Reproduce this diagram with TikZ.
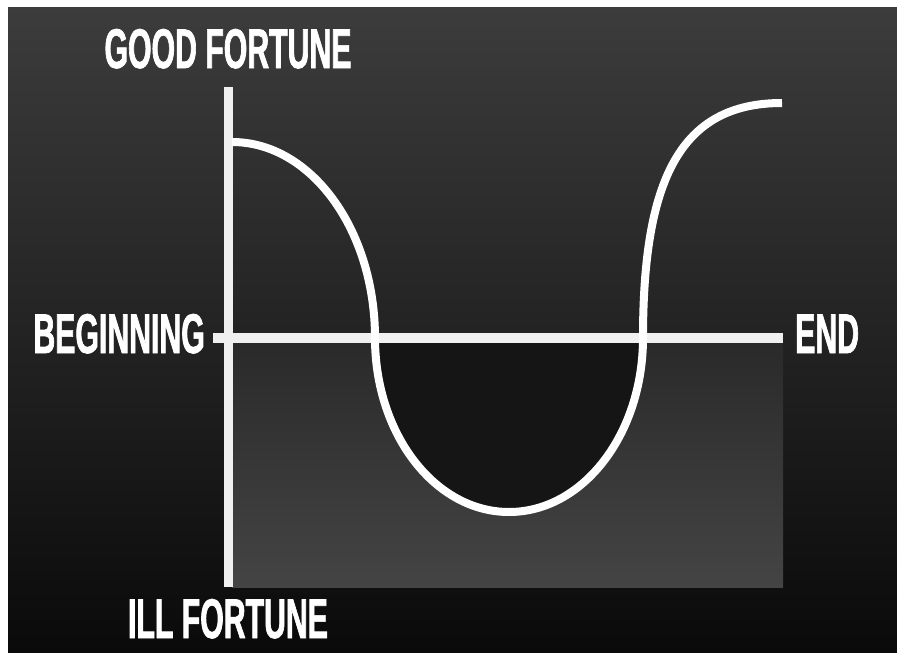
\documentclass[tikz,border=0pt]{standalone}
\usepackage{fontspec}
\usepackage{tikz}
\usetikzlibrary{positioning, calc}
\newfontfamily\posterfont{Liberation Sans}[FakeStretch=0.54, FakeBold=1.2]
\definecolor{bgtop}{HTML}{3C3C3C}
\definecolor{bgmid}{HTML}{1C1C1C}
\definecolor{bgbot}{HTML}{0A0A0A}
\definecolor{paneltop}{HTML}{2A2A2A}
\definecolor{panelbot}{HTML}{444444}
\definecolor{dipfill}{HTML}{151515}

\begin{document}
\begin{tikzpicture}[
  x=1pt, y=-1pt,
  lbl/.style={text=white, inner sep=0pt, font=\posterfont\bfseries\fontsize{56}{60}\selectfont},
  axis/.style={white!94!black, line cap=butt},
  plot/.style={white, line width=8pt, line cap=butt}
]
\useasboundingbox[fill=white] (0,0) rectangle (897,653);
\shade[top color=bgtop, middle color=bgmid, bottom color=bgbot] (8,7) rectangle (897,653);

% axes end points
\coordinate (O)      at (228,338);
\coordinate (ytop)   at (228,87);
\coordinate (ybot)   at (228,587);
\coordinate (xleft)  at (213,338);
\coordinate (xright) at (783,338);

% lighter panel under the axis, with the dip cut out
\shade[top color=paneltop, bottom color=panelbot] (232,343) rectangle (783,587);
\fill[dipfill] (375,338) arc[start angle=180, end angle=0, x radius=134, y radius=174] -- cycle;

\draw[axis, line width=9pt]  (ytop) -- (ybot);
\draw[axis, line width=10pt] (xleft) -- (xright);

% fortune curve
\coordinate (start) at (232,142);
\coordinate (fin)   at (782,103);
\draw[plot] (start)
  arc[start angle=-90, end angle=0, x radius=143, y radius=196]
  arc[start angle=180, end angle=0, x radius=134, y radius=174]
  .. controls (643,180) and (680,103) .. (fin);

\node[lbl, anchor=base]      (good)   at (228,68)  {GOOD FORTUNE};
\node[lbl, anchor=base]      (ill)    at (228,638) {ILL FORTUNE};
\node[lbl, anchor=base east] (begin)  at (205,353) {BEGINNING};
\node[lbl, anchor=base west] (endlbl) at (795,353) {END};
\end{tikzpicture}
\end{document}
